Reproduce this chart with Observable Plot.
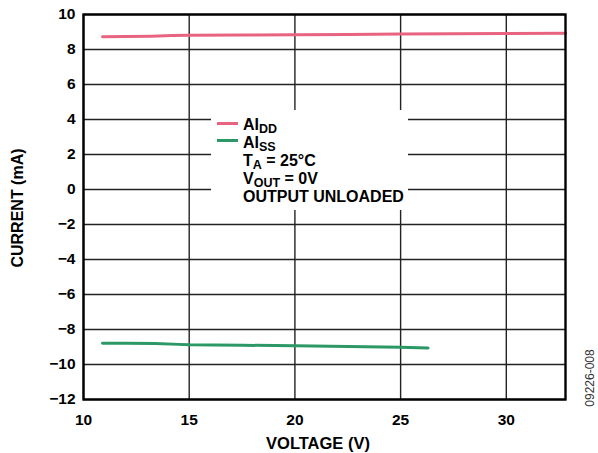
<!DOCTYPE html>
<html>
<head>
<meta charset="utf-8">
<script src="https://cdn.jsdelivr.net/npm/d3@7"></script>
<script src="https://cdn.jsdelivr.net/npm/@observablehq/plot@0.6"></script>
<style>
  html, body { margin: 0; padding: 0; background: #fff; }
  #wrap { position: relative; width: 598px; height: 453px; font-family: "Liberation Sans", Arial, Helvetica, sans-serif; }
  #wrap svg { display: block; }
</style>
</head>
<body>
<div id="wrap"></div>
<script>
// ---- data ----
const xTicks = [10, 15, 20, 25, 30];
const yTicks = [-12, -10, -8, -6, -4, -2, 0, 2, 4, 6, 8, 10];
const xDomain = [10, 32.8];
const yDomain = [-12, 10];

const voltageDD = [10.9, 12.0, 13.2, 14.2, 15, 17.5, 20, 22.5, 25, 27.5, 30, 32.8];
const currentDD = [8.73, 8.74, 8.76, 8.80, 8.81, 8.83, 8.84, 8.86, 8.89, 8.90, 8.92, 8.93];

const voltageSS = [10.9, 12.0, 13.4, 14.5, 15, 17.5, 20, 22.5, 25, 26.3];
const currentSS = [-8.78, -8.79, -8.80, -8.85, -8.87, -8.90, -8.93, -8.97, -9.01, -9.06];

const seriesNames = ["AIDD", "AISS"];
const seriesColors = ["#e8637f", "#2b9865"];

const rows = [];
voltageDD.forEach((v, i) => rows.push({series: "AIDD", v, c: currentDD[i]}));
voltageSS.forEach((v, i) => rows.push({series: "AISS", v, c: currentSS[i]}));

const W = 598, H = 453;
const mL = 83, mR = 33, mT = 14, mB = 54;
const font = "Liberation Sans, Arial, Helvetica, sans-serif";

const chart = Plot.plot({
  width: W,
  height: H,
  marginLeft: mL,
  marginRight: mR,
  marginTop: mT,
  marginBottom: mB,
  style: {fontFamily: font, fontSize: "15.5px", fontWeight: "bold", color: "#000", background: "#fff"},
  x: {domain: xDomain, ticks: xTicks},
  y: {domain: yDomain, ticks: yTicks},
  color: {domain: seriesNames, range: seriesColors},
  marks: [
    Plot.gridX(xTicks, {stroke: "#222", strokeOpacity: 1, strokeWidth: 1.4}),
    Plot.gridY(yTicks, {stroke: "#222", strokeOpacity: 1, strokeWidth: 1.4}),
    Plot.axisX(xTicks, {tickSize: 0, tickPadding: 14, label: null, fontWeight: "bold"}),
    Plot.axisY(yTicks, {tickSize: 0, tickPadding: 8, label: null, fontWeight: "bold"}),
    Plot.line(rows, {x: "v", y: "c", z: "series", stroke: "series", strokeWidth: 3, curve: "linear"}),
    Plot.frame({stroke: "#000", strokeWidth: 2.4})
  ]
});

const wrap = document.getElementById("wrap");
wrap.appendChild(chart);

// Legend overlay
const leg = d3.select(wrap).append("svg")
  .attr("width", W).attr("height", H)
  .style("position", "absolute").style("left", "0px").style("top", "0px")
  .style("font-family", font).style("font-weight", "bold");

leg.append("rect").attr("x", 211).attr("y", 110).attr("width", 197).attr("height", 100).attr("fill", "#fff");

const legendLines = [
  {main: "AI", sub: "DD", rest: ""},
  {main: "AI", sub: "SS", rest: ""},
  {main: "T", sub: "A", rest: " = 25°C"},
  {main: "V", sub: "OUT", rest: " = 0V"},
  {main: "OUTPUT UNLOADED", sub: "", rest: ""}
];
const base0 = 129.5, step = 18.1, tx = 243;
legendLines.forEach((d, i) => {
  const t = leg.append("text").attr("x", tx).attr("y", base0 + i * step).attr("font-size", 16).attr("fill", "#000");
  t.append("tspan").text(d.main);
  if (d.sub) t.append("tspan").attr("font-size", 12.5).attr("dy", 3.5).text(d.sub);
  if (d.rest) t.append("tspan").attr("dy", -3.5).text(d.rest);
});
seriesColors.forEach((c, i) => {
  leg.append("line").attr("x1", 217).attr("x2", 238)
    .attr("y1", 123.5 + i * 17).attr("y2", 123.5 + i * 17)
    .attr("stroke", c).attr("stroke-width", 3);
});

// Axis titles
leg.append("text").attr("x", 318).attr("y", 449).attr("text-anchor", "middle")
  .attr("font-size", 16.5).text("VOLTAGE (V)");
leg.append("text").attr("transform", "translate(23,208) rotate(-90)").attr("text-anchor", "middle")
  .attr("font-size", 16).text("CURRENT (mA)");
leg.append("text").attr("transform", "translate(594,378) rotate(-90)").attr("text-anchor", "middle")
  .attr("font-size", 12).attr("font-weight", "normal").attr("fill", "#333").text("09226-008");
</script>
</body>
</html>
